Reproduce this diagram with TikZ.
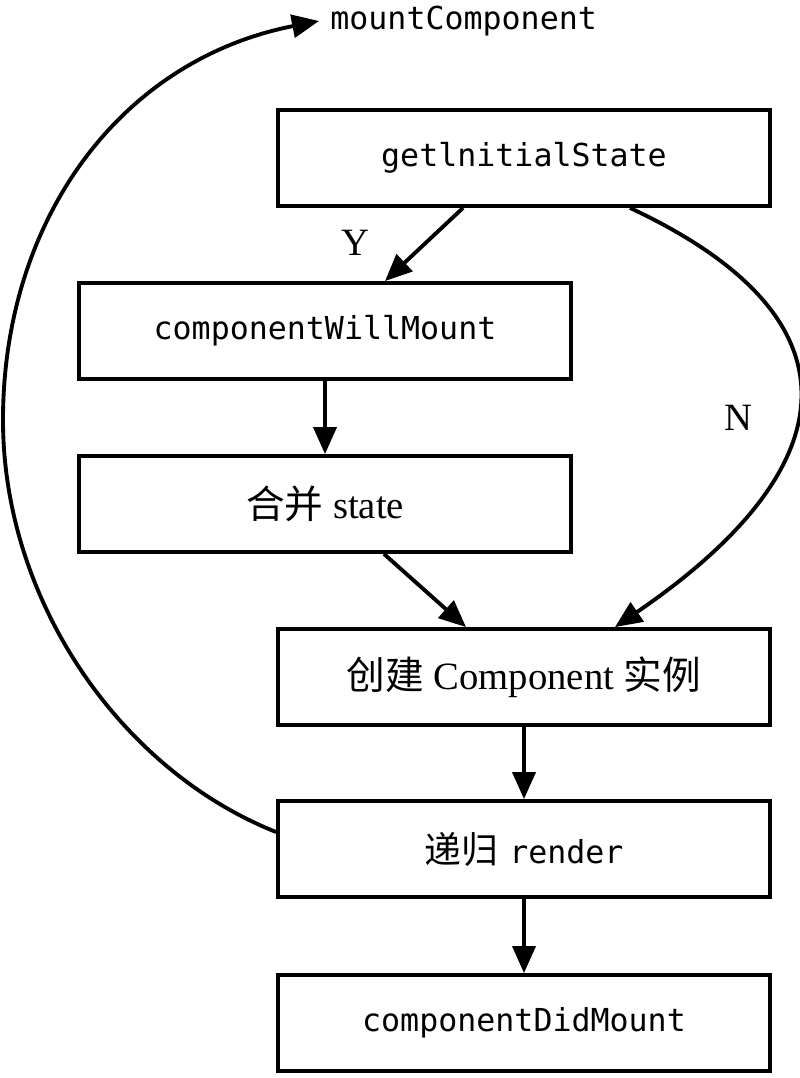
\documentclass[tikz,border=0pt]{standalone}
\usepackage{fontspec}
\setmainfont{Liberation Serif}
\setmonofont{DejaVu Sans Mono}
\newfontfamily\cjk{Noto Sans CJK SC}
\usepackage{tikz}
\usetikzlibrary{arrows.meta}

\begin{document}
\begin{tikzpicture}[x=0.02cm, y=-0.02cm,
    stage/.style={draw, line width=2.2pt, minimum width=9.84cm, minimum height=1.92cm, inner sep=0pt},
    codetext/.style={font=\fontsize{18}{22}\selectfont\ttfamily},
    plaintext/.style={font=\fontsize{22}{26}\selectfont},
    flow/.style={line width=2.2pt, -{Triangle[length=0.54cm, width=0.46cm]}}]
    \useasboundingbox (0,0) rectangle (800,1078);
    % the boxes
    \node[stage, codetext] (init) at (524,158) {getlnitialState};
    \node[stage, codetext] (will) at (325,331) {componentWillMount};
    \node[stage, plaintext] (merge) at (325,504) {{\cjk 合并} state};
    \node[stage, plaintext] (create) at (524,677) {{\cjk 创建} Component {\cjk 实例}};
    \node[stage, codetext] (recur) at (524,849) {{\fontsize{21}{24}\selectfont\cjk 递归}\hspace{0.22cm}render};
    \node[stage, codetext] (did) at (524,1023) {componentDidMount};
    \node[codetext, anchor=west, inner sep=0.22cm] (mount) at (319,21) {mountComponent};
    \node[plaintext] (yes) at (355,243) {Y};
    \node[plaintext] (no) at (738,418) {N};
    \coordinate (loopleft) at (3,420);
    % the arrows
    \draw[flow] ([xshift=-1.22cm]init.south) -- ([xshift=1.2cm]will.north);
    \draw[flow] ([xshift=2.12cm]init.south) .. controls (870,320) and (845,470) .. ([xshift=1.82cm]create.north);
    \draw[flow] (will.south) -- (merge.north);
    \draw[flow] ([xshift=1.18cm]merge.south) -- ([xshift=-1.16cm]create.north);
    \draw[flow] (create.south) -- (recur.north);
    \draw[flow] (recur.south) -- (did.north);
    \draw[flow] ([yshift=0.34cm]recur.west) .. controls (120,770) and (3,600) .. (loopleft)
        .. controls (3,220) and (120,60) .. (mount.west);
\end{tikzpicture}
\end{document}
